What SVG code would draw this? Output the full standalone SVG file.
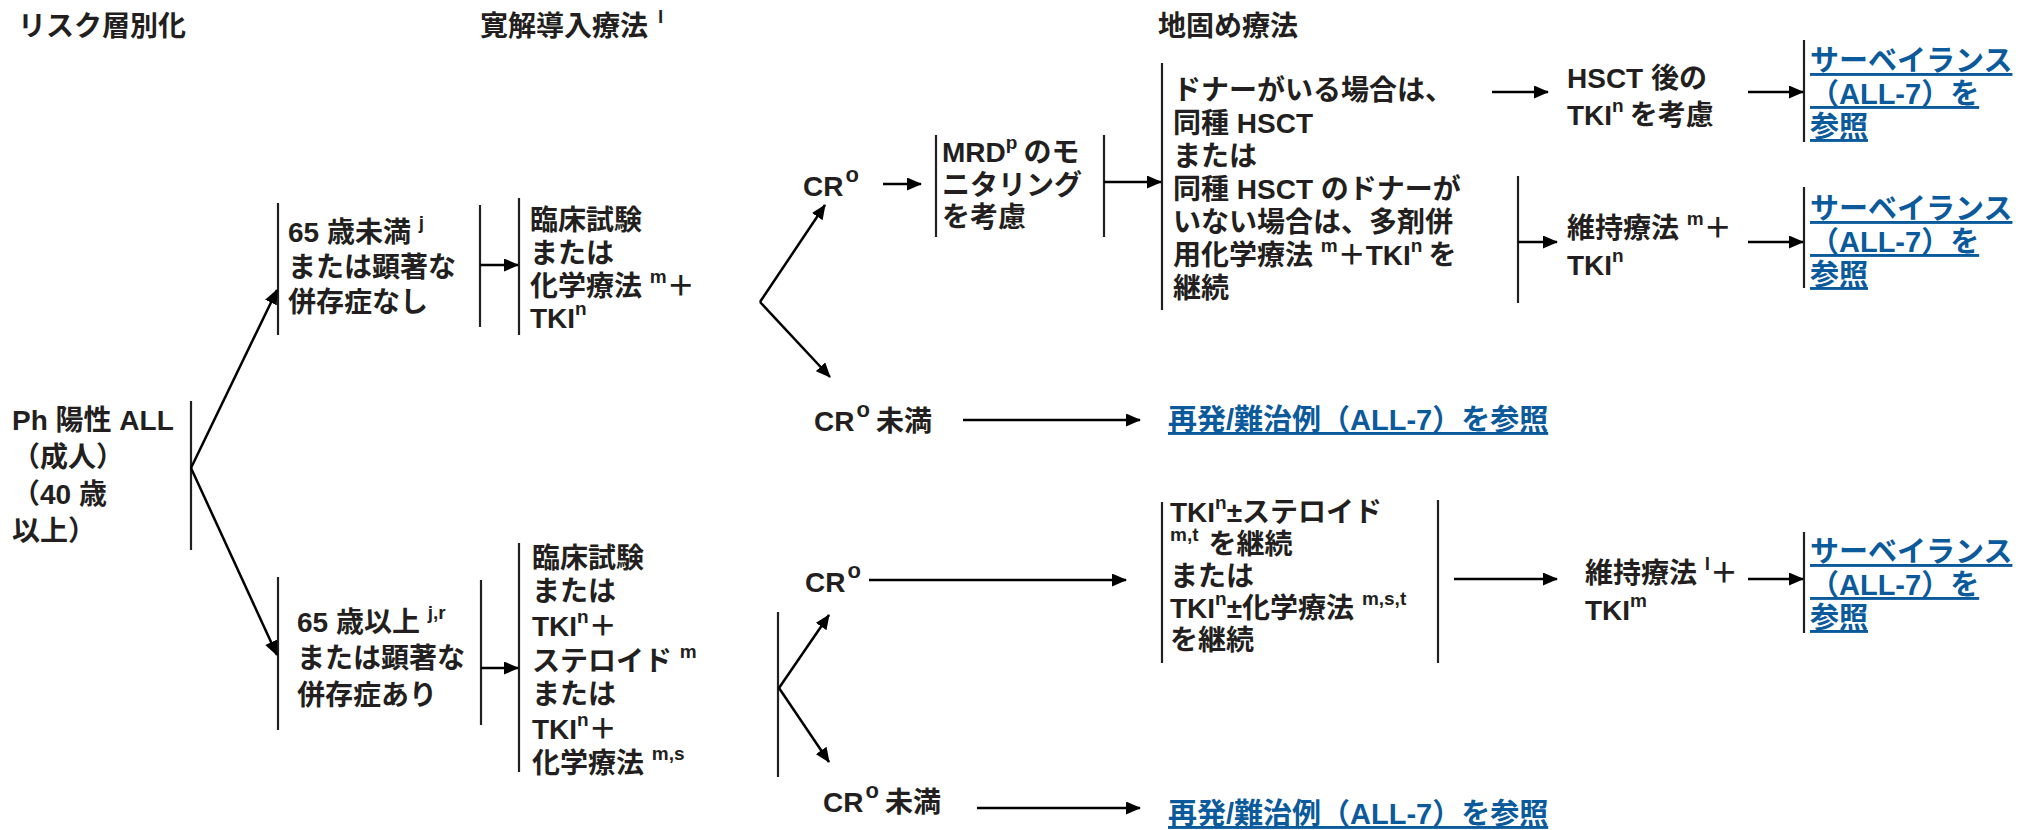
<svg xmlns="http://www.w3.org/2000/svg" width="2030" height="830" viewBox="0 0 2030 830">
<style>
.t{font-family:"Liberation Sans","Noto Sans CJK JP",sans-serif;font-weight:bold;font-size:28px;fill:#231f20}
.lk{fill:#0b5a9c;text-decoration:underline;font-size:29px}
.s{font-size:19px}
.o{font-size:22px}
.br{stroke:#231f20;stroke-width:2.2;fill:none}
.cn{stroke:#000;stroke-width:2.5;fill:none;marker-end:url(#ah)}
</style>
<defs>
<marker id="ah" markerUnits="userSpaceOnUse" markerWidth="15" markerHeight="13" viewBox="0 0 15 13" refX="14" refY="6.5" orient="auto">
<path d="M0,0 L15,6.5 L0,13 z" fill="#000"/>
</marker>
</defs>
<g id="headers">
<text class="t" x="18" y="36">リスク層別化</text>
<text class="t" x="480" y="36">寛解導入療法<tspan class="s" dx="10" dy="-13">l</tspan></text>
<text class="t" x="1158" y="36">地固め療法</text>
</g>
<g id="n-ph">
<line class="br" x1="191" y1="401" x2="191" y2="550"/>
<text class="t" x="12" y="430">Ph 陽性 ALL</text>
<text class="t" x="12" y="467">（成人）</text>
<text class="t" x="12" y="504">（40 歳</text>
<text class="t" x="12" y="541">以上）</text>
</g>
<g id="n-under65">
<line class="br" x1="278" y1="203" x2="278" y2="335"/>
<line class="br" x1="480" y1="205" x2="480" y2="327"/>
<text class="t" x="288" y="242">65 歳未満 <tspan class="s" dy="-13">j</tspan></text>
<text class="t" x="288" y="277">または顕著な</text>
<text class="t" x="288" y="312">併存症なし</text>
</g>
<g id="n-induction1">
<line class="br" x1="519" y1="198" x2="519" y2="335"/>
<text class="t" x="530" y="230">臨床試験</text>
<text class="t" x="530" y="263">または</text>
<text class="t" x="530" y="296">化学療法 <tspan class="s" dy="-13">m</tspan><tspan dy="13">＋</tspan></text>
<text class="t" x="530" y="328">TKI<tspan class="s" dy="-13">n</tspan></text>
</g>
<g id="n-cr1">
<text class="t" x="803" y="196">CR<tspan class="o" dx="2" dy="-14">o</tspan></text>
</g>
<g id="n-mrd">
<line class="br" x1="936" y1="135" x2="936" y2="237"/>
<line class="br" x1="1104" y1="135" x2="1104" y2="237"/>
<text class="t" x="942" y="162">MRD<tspan class="s" dy="-13">p</tspan><tspan dx="6" dy="13">のモ</tspan></text>
<text class="t" x="942" y="195">ニタリング</text>
<text class="t" x="942" y="227">を考慮</text>
</g>
<g id="n-consol1">
<line class="br" x1="1162" y1="63" x2="1162" y2="310"/>
<text class="t" x="1173" y="100">ドナーがいる場合は、</text>
<text class="t" x="1173" y="133">同種 HSCT</text>
<text class="t" x="1173" y="166">または</text>
<text class="t" x="1173" y="199">同種 HSCT のドナーが</text>
<text class="t" x="1173" y="232">いない場合は、多剤併</text>
<text class="t" x="1173" y="265">用化学療法 <tspan class="s" dy="-13">m</tspan><tspan dy="13">＋TKI</tspan><tspan class="s" dy="-13">n</tspan><tspan dx="6" dy="13">を</tspan></text>
<text class="t" x="1173" y="298">継続</text>
</g>
<g id="n-posthsct">
<text class="t" x="1567" y="88">HSCT 後の</text>
<text class="t" x="1567" y="125">TKI<tspan class="s" dy="-13">n</tspan><tspan dx="6" dy="13">を考慮</tspan></text>
</g>
<g id="n-maint1">
<line class="br" x1="1518" y1="176" x2="1518" y2="303"/>
<text class="t" x="1567" y="238">維持療法 <tspan class="s" dy="-13">m</tspan><tspan dy="13">＋</tspan></text>
<text class="t" x="1567" y="275">TKI<tspan class="s" dy="-13">n</tspan></text>
</g>
<g id="n-surv1">
<line class="br" x1="1804" y1="40" x2="1804" y2="142"/>
<text class="t lk" x="1810" y="71">サーベイランス</text>
<text class="t lk" x="1810" y="104">（ALL-7）を</text>
<text class="t lk" x="1810" y="137">参照</text>
</g>
<g id="n-surv2">
<line class="br" x1="1804" y1="187" x2="1804" y2="288"/>
<text class="t lk" x="1810" y="219">サーベイランス</text>
<text class="t lk" x="1810" y="252">（ALL-7）を</text>
<text class="t lk" x="1810" y="285">参照</text>
</g>
<g id="n-nocr1">
<text class="t" x="814" y="431">CR<tspan class="o" dx="2" dy="-14">o</tspan><tspan dx="6" dy="14">未満</tspan></text>
</g>
<g id="n-relapse1">
<text class="t lk" x="1168" y="430">再発/難治例（ALL-7）を参照</text>
</g>
<g id="n-over65">
<line class="br" x1="278" y1="577" x2="278" y2="730"/>
<line class="br" x1="481" y1="580" x2="481" y2="725"/>
<text class="t" x="297" y="632">65 歳以上 <tspan class="s" dy="-13">j,r</tspan></text>
<text class="t" x="297" y="668">または顕著な</text>
<text class="t" x="297" y="705">併存症あり</text>
</g>
<g id="n-induction2">
<line class="br" x1="519" y1="543" x2="519" y2="772"/>
<text class="t" x="532" y="568">臨床試験</text>
<text class="t" x="532" y="601">または</text>
<text class="t" x="532" y="636">TKI<tspan class="s" dy="-13">n</tspan><tspan dy="13">＋</tspan></text>
<text class="t" x="532" y="671">ステロイド <tspan class="s" dy="-13">m</tspan></text>
<text class="t" x="532" y="704">または</text>
<text class="t" x="532" y="739">TKI<tspan class="s" dy="-13">n</tspan><tspan dy="13">＋</tspan></text>
<text class="t" x="532" y="773">化学療法 <tspan class="s" dy="-13">m,s</tspan></text>
</g>
<g id="n-branch2">
<line class="br" x1="778" y1="612" x2="778" y2="777"/>
</g>
<g id="n-cr2">
<text class="t" x="805" y="592">CR<tspan class="o" dx="2" dy="-14">o</tspan></text>
</g>
<g id="n-consol2">
<line class="br" x1="1162" y1="502" x2="1162" y2="663"/>
<line class="br" x1="1438" y1="500" x2="1438" y2="663"/>
<text class="t" x="1170" y="522">TKI<tspan class="s" dy="-13">n</tspan><tspan dy="13">±ステロイド</tspan></text>
<text class="t" x="1170" y="554"><tspan class="s" dy="-13">m,t</tspan><tspan dx="10" dy="13">を継続</tspan></text>
<text class="t" x="1170" y="586">または</text>
<text class="t" x="1170" y="618">TKI<tspan class="s" dy="-13">n</tspan><tspan dy="13">±化学療法 </tspan><tspan class="s" dy="-13">m,s,t</tspan></text>
<text class="t" x="1170" y="650">を継続</text>
</g>
<g id="n-maint2">
<text class="t" x="1585" y="583">維持療法 <tspan class="s" dy="-13">l</tspan><tspan dy="13">＋</tspan></text>
<text class="t" x="1585" y="620">TKI<tspan class="s" dy="-13">m</tspan></text>
</g>
<g id="n-surv3">
<line class="br" x1="1804" y1="532" x2="1804" y2="633"/>
<text class="t lk" x="1810" y="562">サーベイランス</text>
<text class="t lk" x="1810" y="595">（ALL-7）を</text>
<text class="t lk" x="1810" y="628">参照</text>
</g>
<g id="n-nocr2">
<text class="t" x="823" y="812">CR<tspan class="o" dx="2" dy="-14">o</tspan><tspan dx="6" dy="14">未満</tspan></text>
</g>
<g id="n-relapse2">
<text class="t lk" x="1168" y="824">再発/難治例（ALL-7）を参照</text>
</g>
<g id="connectors">
<line class="cn" x1="191" y1="468" x2="277" y2="290"/>
<line class="cn" x1="191" y1="468" x2="277" y2="655"/>
<line class="cn" x1="480" y1="265" x2="518" y2="265"/>
<line class="cn" x1="481" y1="668" x2="518" y2="668"/>
<line class="cn" x1="760" y1="302" x2="825" y2="205"/>
<line class="cn" x1="760" y1="302" x2="830" y2="377"/>
<line class="cn" x1="883" y1="184" x2="921" y2="184"/>
<line class="cn" x1="1104" y1="182" x2="1161" y2="182"/>
<line class="cn" x1="1492" y1="92" x2="1548" y2="92"/>
<line class="cn" x1="1518" y1="242" x2="1557" y2="242"/>
<line class="cn" x1="1748" y1="92" x2="1803" y2="92"/>
<line class="cn" x1="1748" y1="242" x2="1803" y2="242"/>
<line class="cn" x1="963" y1="420" x2="1140" y2="420"/>
<line class="cn" x1="779" y1="688" x2="829" y2="615"/>
<line class="cn" x1="779" y1="688" x2="829" y2="762"/>
<line class="cn" x1="869" y1="580" x2="1126" y2="580"/>
<line class="cn" x1="1454" y1="579" x2="1557" y2="579"/>
<line class="cn" x1="1748" y1="579" x2="1803" y2="579"/>
<line class="cn" x1="977" y1="808" x2="1140" y2="808"/>
</g>
</svg>
